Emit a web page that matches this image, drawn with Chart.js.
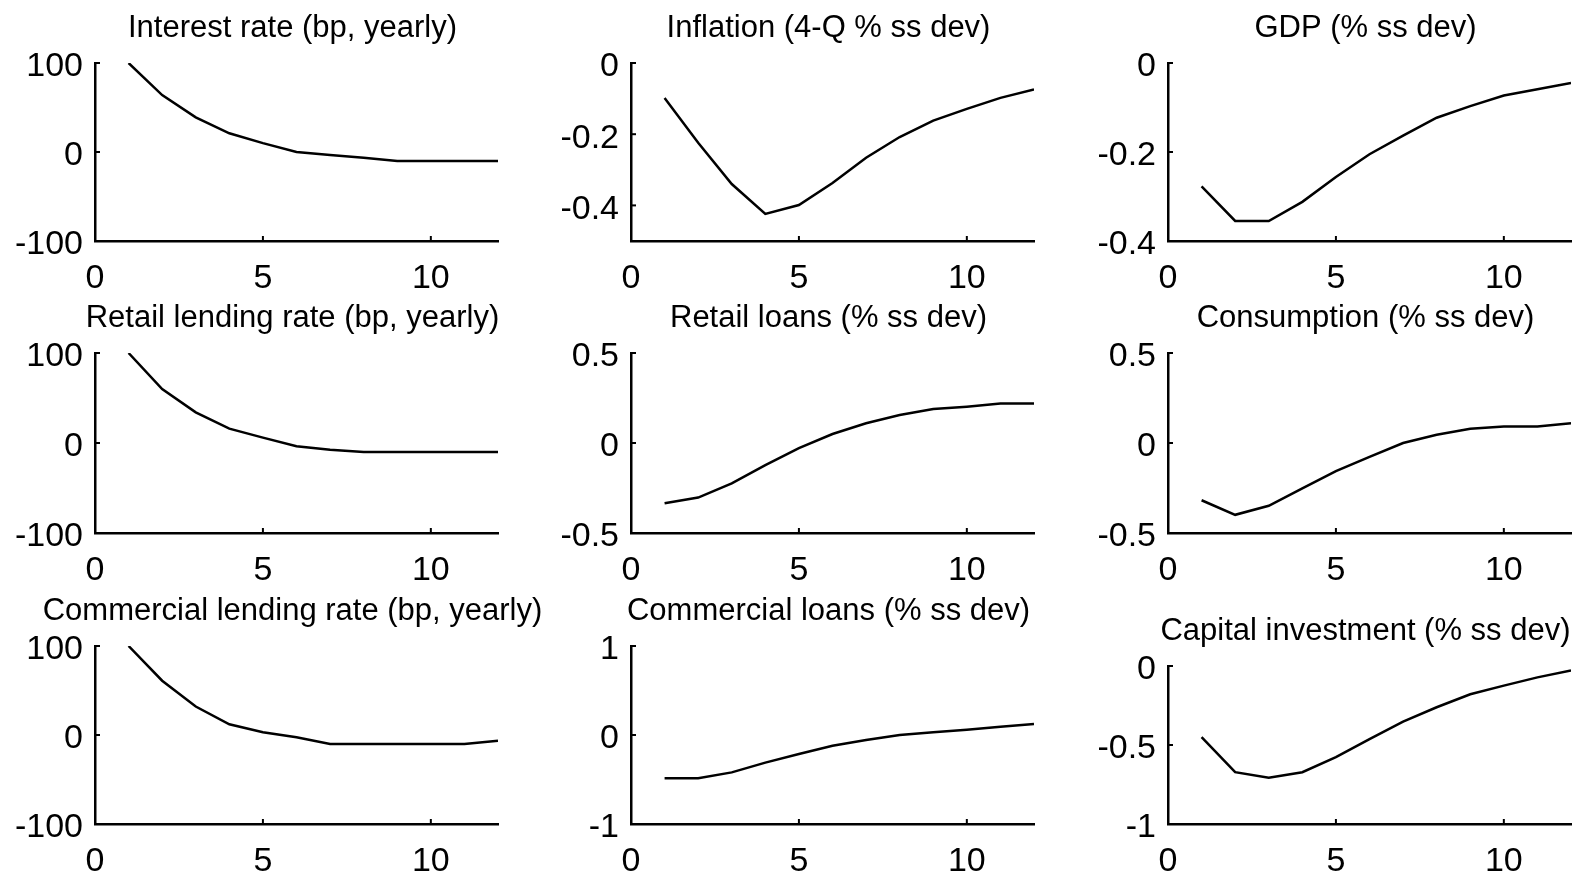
<!DOCTYPE html>
<html>
<head>
<meta charset="utf-8">
<title>Impulse responses</title>
<script src="https://cdn.jsdelivr.net/npm/chart.js@4.4.1/dist/chart.umd.min.js"></script>
<style>
  html, body { margin: 0; padding: 0; background: #fff; overflow: hidden; }
  canvas { position: absolute; }
</style>
</head>
<body>
<div id="panels"></div>
<script>
// quarters after the shock
const periods = [1, 2, 3, 4, 5, 6, 7, 8, 9, 10, 11, 12];
const xTicks = [0, 5, 10];

// responses
const interestRate    = [100, 64, 39, 21, 10, 0, -3.5, -6.5, -10, -10, -10, -10];
const inflation       = [-0.098, -0.224, -0.34, -0.424, -0.399, -0.337, -0.266, -0.208, -0.162, -0.129, -0.098, -0.074];
const gdp             = [-0.277, -0.355, -0.355, -0.312, -0.256, -0.205, -0.163, -0.123, -0.097, -0.073, -0.059, -0.045];
const retailRate      = [100, 60, 34, 16, 6, -3.5, -7.5, -10, -10, -10, -10, -10];
const retailLoans     = [-0.335, -0.303, -0.224, -0.123, -0.028, 0.05, 0.11, 0.156, 0.189, 0.202, 0.219, 0.219];
const consumption     = [-0.318, -0.399, -0.349, -0.252, -0.156, -0.077, 0, 0.046, 0.079, 0.092, 0.092, 0.11];
const commercialRate  = [100, 61, 32, 12, 3, -2.6, -10, -10, -10, -10, -10, -6.5];
const commercialLoans = [-0.487, -0.487, -0.42, -0.31, -0.213, -0.12, -0.056, 0, 0.03, 0.06, 0.094, 0.124];
const investment      = [-0.45, -0.672, -0.707, -0.672, -0.577, -0.463, -0.352, -0.261, -0.179, -0.124, -0.072, -0.029];

// y tick labels
const rateTicks = [-100, 0, 100];
const inflationTicks = [-0.4, -0.2, 0];
const gdpTicks = [-0.4, -0.2, 0];
const halfTicks = [-0.5, 0, 0.5];
const oneTicks = [-1, 0, 1];
const investTicks = [-1, -0.5, 0];

const titles = [
  "Interest rate (bp, yearly)", "Inflation (4-Q % ss dev)", "GDP (% ss dev)",
  "Retail lending rate (bp, yearly)", "Retail loans (% ss dev)", "Consumption (% ss dev)",
  "Commercial lending rate (bp, yearly)", "Commercial loans (% ss dev)", "Capital investment (% ss dev)"
];

const panels = [
  { data: interestRate,    min: -100, max: 100, ticks: rateTicks },
  { data: inflation,       min: -0.5, max: 0,   ticks: inflationTicks },
  { data: gdp,             min: -0.4, max: 0,   ticks: gdpTicks },
  { data: retailRate,      min: -100, max: 100, ticks: rateTicks },
  { data: retailLoans,     min: -0.5, max: 0.5, ticks: halfTicks },
  { data: consumption,     min: -0.5, max: 0.5, ticks: halfTicks },
  { data: commercialRate,  min: -100, max: 100, ticks: rateTicks },
  { data: commercialLoans, min: -1,   max: 1,   ticks: oneTicks },
  { data: investment,      min: -1,   max: 0,   ticks: investTicks },
];

// layout of the axes boxes (page pixels)
const colLeft = [94.5, 631, 1168];
const rowTop = [63, 353, 646];
const rowBottom = [241, 533, 824];
const plotW = 403;
const YW = 90;        // room for y labels
const PR = YW - 8;    // empty right axis, keeps titles centred on the plot
const XH = 48;        // room for x labels
const TITLE_TOP = 6, TITLE_LH = 37, TITLE_BOT = 16;
const TH = TITLE_TOP + TITLE_LH + TITLE_BOT;

const FONT = "'Liberation Sans', Arial, Helvetica, sans-serif";

// MATLAB style ticks pointing inside
const inwardTicks = {
  id: "inwardTicks",
  afterDraw(chart) {
    const { ctx, chartArea, scales } = chart;
    ctx.save();
    ctx.strokeStyle = "#000";
    ctx.lineWidth = 2;
    scales.y.ticks.forEach(t => {
      const py = scales.y.getPixelForValue(t.value);
      ctx.beginPath();
      ctx.moveTo(chartArea.left, py);
      ctx.lineTo(chartArea.left + 5, py);
      ctx.stroke();
    });
    scales.x.ticks.forEach(t => {
      const px = scales.x.getPixelForValue(t.value);
      ctx.beginPath();
      ctx.moveTo(px, chartArea.bottom);
      ctx.lineTo(px, chartArea.bottom - 5);
      ctx.stroke();
    });
    ctx.restore();
  }
};

const holder = document.getElementById("panels");

panels.forEach((p, i) => {
  const r = Math.floor(i / 3), c = i % 3;
  let top = rowTop[r];
  if (i === 8) top = 666; // last panel is a bit shorter
  const bottom = rowBottom[r];

  const cv = document.createElement("canvas");
  cv.width = YW + plotW + PR;
  cv.height = TH + (bottom - top) + XH;
  cv.style.left = (colLeft[c] - YW) + "px";
  cv.style.top = (top - TH) + "px";
  holder.appendChild(cv);

  new Chart(cv.getContext("2d"), {
    type: "line",
    data: {
      datasets: [{
        data: periods.map((x, k) => ({ x: x, y: p.data[k] })),
        borderColor: "#000",
        borderWidth: 2.5,
        pointRadius: 0,
        tension: 0,
        fill: false,
      }]
    },
    options: {
      responsive: false,
      animation: false,
      layout: { padding: 0 },
      plugins: {
        legend: { display: false },
        tooltip: { enabled: false },
        title: {
          display: true,
          text: titles[i],
          color: "#000",
          fullSize: true,
          font: { family: FONT, size: 31, weight: "normal", lineHeight: TITLE_LH + "px" },
          padding: { top: TITLE_TOP, bottom: TITLE_BOT },
        },
      },
      scales: {
        x: {
          type: "linear",
          min: 0,
          max: 12,
          grid: { display: false, drawTicks: false },
          border: { display: true, color: "#000", width: 2.5 },
          afterBuildTicks: s => { s.ticks = xTicks.map(v => ({ value: v })); },
          afterFit: s => { s.height = XH; },
          ticks: {
            color: "#000",
            padding: 17,
            autoSkip: false,
            maxRotation: 0,
            font: { family: FONT, size: 34 },
            callback: v => String(v),
          },
        },
        y: {
          min: p.min,
          max: p.max,
          grid: { display: false, drawTicks: false },
          border: { display: true, color: "#000", width: 2.5 },
          afterBuildTicks: s => { s.ticks = p.ticks.map(v => ({ value: v })); },
          afterFit: s => { s.width = YW; },
          ticks: {
            color: "#000",
            padding: 12,
            labelOffset: 4,
            autoSkip: false,
            font: { family: FONT, size: 34 },
            callback: v => String(v),
          },
        },
        // blank axis on the right: no line, no labels, just space
        yRight: {
          position: "right",
          min: p.min,
          max: p.max,
          grid: { display: false, drawTicks: false },
          border: { display: false },
          ticks: { display: false },
          afterFit: s => { s.width = PR; },
        },
      },
    },
    plugins: [inwardTicks],
  });
});
</script>
</body>
</html>
